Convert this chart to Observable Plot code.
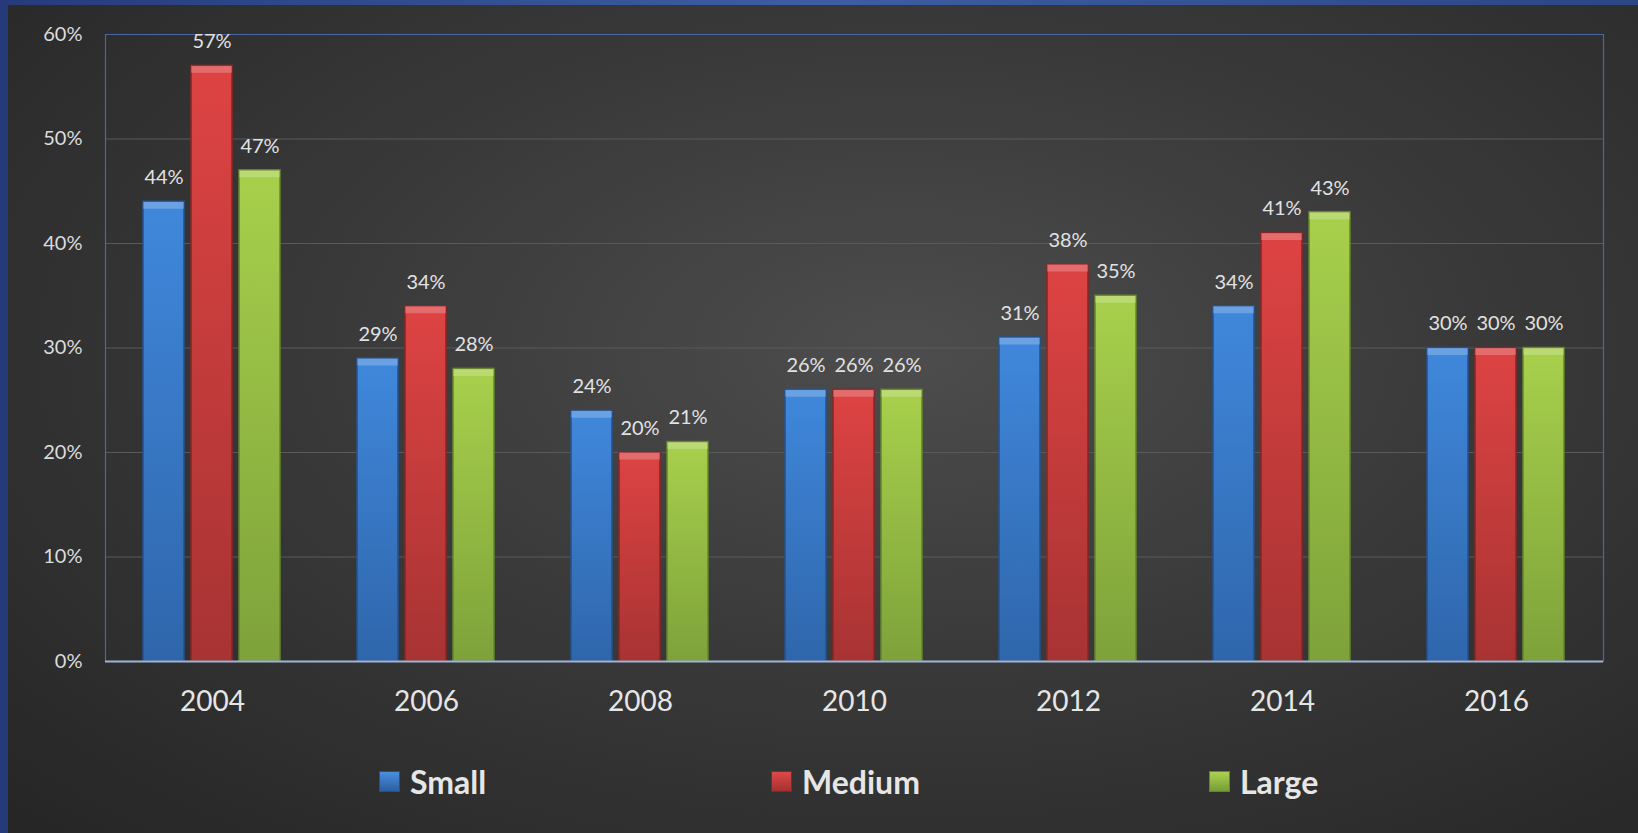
<!DOCTYPE html>
<html>
<head>
<meta charset="utf-8">
<script src="https://cdn.jsdelivr.net/npm/d3@7"></script>
<script src="https://cdn.jsdelivr.net/npm/@observablehq/plot@0.6"></script>
<style>
  html, body { margin: 0; padding: 0; }
  body {
    width: 1638px; height: 833px; overflow: hidden; position: relative;
    background: radial-gradient(ellipse 75% 80% at 55% 42%, #4d4d4d 0%, #3a3a3a 45%, #262626 100%);
    font-family: Lato, "Open Sans", sans-serif;
  }
  #topbar { position: absolute; left: 0; top: 0; width: 1638px; height: 5px;
    background: linear-gradient(90deg, #253b7c 0%, #3d5ea3 50%, #2c4686 100%); }
  #leftbar { position: absolute; left: 0; top: 0; width: 8px; height: 833px; background: #263a7a; }
  #chart { position: absolute; left: 0; top: 0; }
  .legend-item { position: absolute; top: 762px; display: flex; align-items: center;
    color: #e6e6e6; font-weight: bold; font-size: 32px; font-family: Lato, sans-serif; }
  .legend-item .sw { width: 21px; height: 21px; margin-right: 10px; box-sizing: border-box; }
</style>
</head>
<body>
<svg width="0" height="0" style="position:absolute">
  <defs>
    <linearGradient id="gSmall" x1="0" y1="0" x2="0" y2="1">
      <stop offset="0" stop-color="#4088dc"/>
      <stop offset="1" stop-color="#2f66ab"/>
    </linearGradient>
    <linearGradient id="gMedium" x1="0" y1="0" x2="0" y2="1">
      <stop offset="0" stop-color="#de4343"/>
      <stop offset="1" stop-color="#a83333"/>
    </linearGradient>
    <linearGradient id="gLarge" x1="0" y1="0" x2="0" y2="1">
      <stop offset="0" stop-color="#a8d04c"/>
      <stop offset="1" stop-color="#7ea23a"/>
    </linearGradient>
  </defs>
</svg>
<div id="topbar"></div>
<div id="leftbar"></div>
<div id="chart"></div>
<div id="legend"></div>
<script>
const years = ["2004", "2006", "2008", "2010", "2012", "2014", "2016"];
const seriesNames = ["Small", "Medium", "Large"];
const small = [44, 29, 24, 26, 31, 34, 30];
const medium = [57, 34, 20, 26, 38, 41, 30];
const large = [47, 28, 21, 26, 35, 43, 30];
const yTicks = [0, 10, 20, 30, 40, 50, 60];

const fills = ["url(#gSmall)", "url(#gMedium)", "url(#gLarge)"];
const edges = ["#24518a", "#872626", "#66852c"];

const valuesBySeries = {Small: small, Medium: medium, Large: large};
const data = [];
years.forEach((year, i) => {
  seriesNames.forEach(s => data.push({year, series: s, value: valuesBySeries[s][i]}));
});

const chart = Plot.plot({
  width: 1638,
  height: 730,
  marginTop: 34,
  marginLeft: 102,
  marginRight: 32,
  marginBottom: 69,
  style: {background: "transparent", fontFamily: "Lato, sans-serif", color: "#dcdcdc"},
  fx: {domain: years, padding: 0},
  x: {domain: seriesNames, paddingInner: 0.143, paddingOuter: 0.764, axis: null},
  y: {domain: [0, 60], axis: null},
  color: {domain: seriesNames, range: fills},
  marks: [
    Plot.gridY(yTicks.filter(t => t > 0 && t < 60), {stroke: "#5a5a5a", strokeOpacity: 1, strokeWidth: 1}),
    Plot.ruleY([60], {stroke: "#4a67a3", strokeWidth: 1.2}),
    Plot.frame({anchor: "left", facetAnchor: "left", stroke: "#4a67a3", strokeWidth: 1.2}),
    Plot.frame({anchor: "right", facetAnchor: "right", stroke: "#4a67a3", strokeWidth: 1.2}),
    Plot.barY(data, {fx: "year", x: "series", y: "value", fill: "series",
      stroke: d => edges[seriesNames.indexOf(d.series)], strokeWidth: 1.5}),
    Plot.tickY(data, {fx: "year", x: "series", y: "value", stroke: "white", strokeOpacity: 0.22, strokeWidth: 7, dy: 3.5}),
    Plot.text(data, {fx: "year", x: "series", y: "value", text: d => d.value + "%", dy: -24,
      fill: "#e2e2e2", fontSize: 20}),
    Plot.ruleY([0], {stroke: "#9fb4d6", strokeWidth: 2}),
    Plot.axisY({ticks: yTicks, tickSize: 0, tickPadding: 23, fontSize: 20, tickFormat: d => d + "%",
      label: null, fill: "#dcdcdc"}),
    Plot.axisFx({anchor: "bottom", tickSize: 0, tickPadding: 30, fontSize: 28, label: null, fill: "#e6e6e6"})
  ]
});
document.getElementById("chart").appendChild(chart);

// legend
const legendX = [379, 771, 1209];
const legendColors = [["#4a8ee0", "#2a5fa3"], ["#e04848", "#a53030"], ["#abd351", "#789c35"]];
const legend = document.getElementById("legend");
seriesNames.forEach((s, i) => {
  const item = document.createElement("div");
  item.className = "legend-item";
  item.style.left = legendX[i] + "px";
  const sw = document.createElement("div");
  sw.className = "sw";
  sw.style.background = `linear-gradient(180deg, ${legendColors[i][0]} 0%, ${legendColors[i][1]} 100%)`;
  sw.style.border = `1px solid ${edges[i]}`;
  item.appendChild(sw);
  const t = document.createElement("span");
  t.textContent = s;
  item.appendChild(t);
  legend.appendChild(item);
});
</script>
</body>
</html>
